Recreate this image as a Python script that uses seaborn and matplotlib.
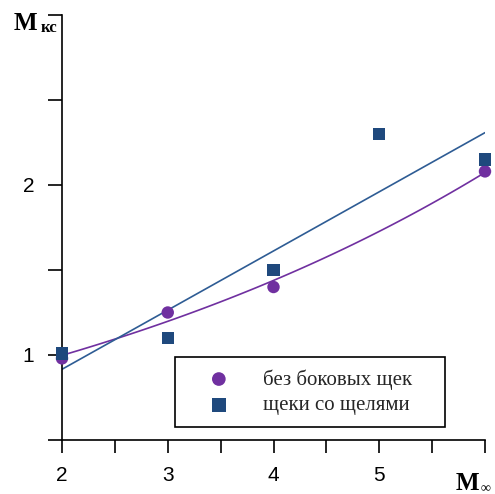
import matplotlib
matplotlib.use("Agg")
import matplotlib.pyplot as plt
from matplotlib.patches import Rectangle
import numpy as np
import pandas as pd
import seaborn as sns

# data
mach = [2, 3, 4, 6]
no_cheeks = [0.98, 1.25, 1.40, 2.08]
mach_slots = [2, 3, 4, 5, 6]
slotted = [1.01, 1.10, 1.50, 2.30, 2.15]

x_ticks = [2, 3, 4, 5, 6]
x_labels = ["2", "3", "4", "5", ""]
y_ticks = [0.5, 1.0, 1.5, 2.0, 2.5, 3.0]
y_labels = ["", "1", "", "2", "", ""]

label_a = "без боковых щек"
label_b = "щеки со щелями"

purple = "#7030A0"
blue = "#1F497D"
blue_line = "#2E5C94"

sns.set_style("ticks")
plt.rcParams["font.family"] = ["Liberation Sans", "DejaVu Sans"]

df_a = pd.DataFrame({"M": mach, "Mks": no_cheeks})
df_b = pd.DataFrame({"M": mach_slots, "Mks": slotted})

fig = plt.figure(figsize=(4.95, 4.94), dpi=100)
ax = fig.add_axes([62 / 495, 54 / 494, 423 / 495, 425 / 494])

# exponential trend for the circles
k, b = np.polyfit(df_a["M"], np.log(df_a["Mks"]), 1)
xs = np.linspace(2, 6, 100)
sns.lineplot(x=xs, y=np.exp(b + k * xs), color=purple, lw=1.2, ax=ax)

# linear trend for the squares
sns.regplot(data=df_b, x="M", y="Mks", ci=None, scatter=False,
            line_kws={"color": blue_line, "lw": 1.2}, ax=ax)

sns.scatterplot(data=df_a, x="M", y="Mks", color=purple, marker="o", s=80,
                edgecolor="none", label=label_a, clip_on=False, zorder=5, ax=ax)
sns.scatterplot(data=df_b, x="M", y="Mks", color=blue, marker="s", s=80,
                edgecolor="none", label=label_b, clip_on=False, zorder=5, ax=ax)

ax.set_xlim(2, 6)
ax.set_ylim(0.5, 3.0)
ax.set_xticks(x_ticks)
ax.set_xticklabels(x_labels)
ax.set_xticks([2.5, 3.5, 4.5, 5.5], minor=True)
ax.set_yticks(y_ticks)
ax.set_yticklabels(y_labels)
ax.set_xlabel("")
ax.set_ylabel("")
sns.despine(ax=ax)
for s in ["left", "bottom"]:
    ax.spines[s].set_linewidth(1.2)
    ax.spines[s].set_color("black")
ax.tick_params(axis="x", which="both", direction="out", length=9, width=1.2,
               pad=10, labelsize=15, colors="black")
ax.tick_params(axis="y", direction="out", length=10, width=1.2,
               pad=10, labelsize=15, colors="black")

# legend frame drawn separately so the box can be wider than its text
box = Rectangle((113 / 423, 13 / 425), 270 / 423, 70 / 425, transform=ax.transAxes,
                facecolor="white", edgecolor="black", lw=1.2, zorder=6)
ax.add_patch(box)
leg = ax.legend(loc="upper left", bbox_to_anchor=(136 / 423, 71 / 425),
                frameon=False, prop={"family": "Liberation Serif", "size": 15},
                handletextpad=1.1, borderpad=0, labelspacing=0.3,
                borderaxespad=0, handlelength=2.0, markerscale=1.1)
leg.set_zorder(7)

serif = {"family": "Liberation Serif", "weight": "bold", "color": "black"}
fig.text(14 / 495, 1 - 30 / 494, "M", fontsize=18, **serif)
fig.text(41 / 495, 1 - 32 / 494, "кс", fontsize=12, **serif)
fig.text(456 / 495, 1 - 490 / 494, "M", fontsize=18, **serif)
fig.text(481 / 495, 1 - 492 / 494, "∞", fontsize=10, **serif)

fig.savefig("out.png", dpi=100)
